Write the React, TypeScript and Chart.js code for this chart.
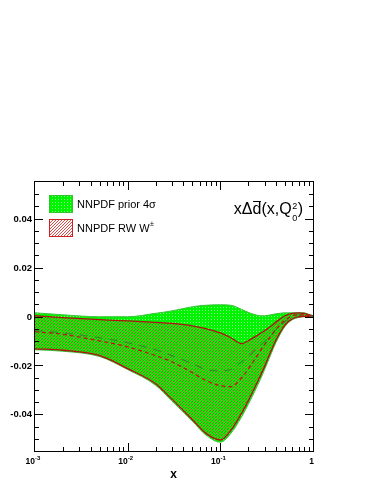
import React, { useEffect, useRef } from "react";
import { Chart, registerables } from "chart.js";

Chart.register(...registerables);

// x grid (log scale)
const xs = [0.001, 0.002, 0.005, 0.01, 0.02, 0.03, 0.05, 0.07, 0.1, 0.13, 0.17, 0.2, 0.25, 0.3, 0.35, 0.4, 0.5, 0.6, 0.7, 0.8, 0.9, 1];

// NNPDF prior 4 sigma band
const priorUp = [0.0015, 0.0007, -0.0001, -0.0001, 0.0013, 0.0023, 0.004, 0.0046, 0.0048, 0.0046, 0.0029, 0.0017, 0.0005, 0.0003, 0.0007, 0.0011, 0.0015, 0.0015, 0.0015, 0.0015, 0.0009, 0.0003];
const priorLow = [-0.0136, -0.0142, -0.0164, -0.0217, -0.0281, -0.0346, -0.0428, -0.0485, -0.0514, -0.0478, -0.041, -0.036, -0.0285, -0.0218, -0.0156, -0.0105, -0.004, -0.0013, -0.0004, -0.0001, -0.0001, 0];
const priorCentral = [-0.0058, -0.0067, -0.0087, -0.0107, -0.0136, -0.016, -0.0193, -0.0217, -0.0222, -0.0217, -0.0185, -0.0164, -0.0128, -0.0103, -0.0079, -0.0054, -0.0022, -0.0001, 0.0007, 0.0007, 0.0003, 0.0001];

// NNPDF reweighted with W+- data
const rwUp = [0.0003, -0.0005, -0.0013, -0.0018, -0.0024, -0.0028, -0.0038, -0.005, -0.0067, -0.0087, -0.0111, -0.0099, -0.0077, -0.0058, -0.004, -0.0022, 0.0003, 0.0013, 0.0015, 0.0013, 0.0007, 0.0003];
const rwLow = [-0.0132, -0.0138, -0.016, -0.0213, -0.0275, -0.0338, -0.0422, -0.0478, -0.0505, -0.0466, -0.0395, -0.0345, -0.027, -0.0205, -0.0144, -0.0095, -0.0034, -0.0009, -0.0001, 0.0001, 0.0001, 0];
const rwCentral = [-0.0062, -0.0073, -0.01, -0.0124, -0.016, -0.0185, -0.023, -0.0262, -0.0283, -0.0287, -0.025, -0.0215, -0.016, -0.0115, -0.008, -0.0052, -0.0015, 0.0003, 0.0007, 0.0007, 0.0003, 0.0001];

// axis ticks
const yTickLabels = ["0.04", "0.02", "0", "-0.02", "-0.04"];
const yTickValues = [0.04, 0.02, 0, -0.02, -0.04];
const xDecades = [-3, -2, -1];

const FONT = '"Liberation Sans", Arial, Helvetica, sans-serif';

const toPts = (arr: number[]) => xs.map((x, i) => ({ x, y: arr[i] }));

function makeHatch(bg: string | null, color: string, n: number): CanvasPattern | string {
  const c = document.createElement("canvas");
  c.width = n;
  c.height = n;
  const g = c.getContext("2d")!;
  if (bg) {
    g.fillStyle = bg;
    g.fillRect(0, 0, n, n);
  }
  g.fillStyle = color;
  for (let i = 0; i < n; i++) g.fillRect(i, n - 1 - i, 1, 1);
  return g.createPattern(c, "repeat") || color;
}

function makeDots(): CanvasPattern | string {
  const c = document.createElement("canvas");
  c.width = 3;
  c.height = 3;
  const g = c.getContext("2d")!;
  g.fillStyle = "#00f400";
  g.fillRect(0, 0, 3, 3);
  g.fillStyle = "#8cff8c";
  g.fillRect(1, 1, 1, 1);
  return g.createPattern(c, "repeat") || "#00f400";
}

const framePlugin = {
  id: "rootFrame",
  afterDraw(chart: any) {
    const { ctx, chartArea } = chart;
    const { left, top, right, bottom } = chartArea;
    const xs_ = chart.scales.x;
    const ys_ = chart.scales.y;
    ctx.save();
    ctx.strokeStyle = "#000";
    ctx.lineWidth = 1;
    ctx.strokeRect(left - 0.5, top - 0.5, right - left + 1, bottom - top + 1);

    // y ticks
    ctx.beginPath();
    for (let i = -10; i <= 10; i++) {
      const v = i * 0.005;
      const py = Math.round(ys_.getPixelForValue(v)) + 0.5;
      const len = i % 4 === 0 ? 8 : 4;
      ctx.moveTo(left, py);
      ctx.lineTo(left + len, py);
      ctx.moveTo(right, py);
      ctx.lineTo(right - len, py);
    }
    // x ticks
    for (const d of xDecades) {
      for (let k = 1; k <= 9; k++) {
        const v = k * Math.pow(10, d);
        if (k === 1 && d === -3) continue;
        const px = Math.round(xs_.getPixelForValue(v)) + 0.5;
        const len = k === 1 ? 8 : 4;
        ctx.moveTo(px, bottom);
        ctx.lineTo(px, bottom - len);
        ctx.moveTo(px, top);
        ctx.lineTo(px, top + len);
      }
    }
    ctx.stroke();

    // y labels
    ctx.fillStyle = "#000";
    ctx.font = `bold 9.5px ${FONT}`;
    ctx.textAlign = "right";
    ctx.textBaseline = "middle";
    yTickValues.forEach((v, i) => {
      ctx.fillText(yTickLabels[i], left - 3, ys_.getPixelForValue(v) + 0.5);
    });

    // x labels
    ctx.textBaseline = "alphabetic";
    ctx.textAlign = "left";
    const xBase = 464;
    for (const d of xDecades) {
      const px = xs_.getPixelForValue(Math.pow(10, d));
      ctx.font = `bold 8.5px ${FONT}`;
      const w1 = ctx.measureText("10").width;
      ctx.font = `bold 6px ${FONT}`;
      const exp = String(d);
      const w2 = ctx.measureText(exp).width;
      const x0 = px - 2 - (w1 + w2) / 2;
      ctx.font = `bold 8.5px ${FONT}`;
      ctx.fillText("10", x0, xBase);
      ctx.font = `bold 6px ${FONT}`;
      ctx.fillText(exp, x0 + w1, xBase - 4);
    }
    ctx.font = `bold 8.5px ${FONT}`;
    ctx.textAlign = "center";
    ctx.fillText("1", xs_.getPixelForValue(1) - 1.5, xBase);

    // x axis title
    ctx.font = `bold 12px ${FONT}`;
    ctx.fillText("x", 173.5, 478);

    // legend
    const dots = makeDots();
    const hatch = makeHatch("#ffffff", "#e04848", 3);
    ctx.fillStyle = dots as any;
    ctx.fillRect(49, 195, 24, 18);
    ctx.strokeStyle = "#2ec42e";
    ctx.strokeRect(49.5, 195.5, 23, 17);
    ctx.fillStyle = hatch as any;
    ctx.fillRect(49, 219, 24, 18);
    ctx.strokeStyle = "#d02020";
    ctx.strokeRect(49.5, 219.5, 23, 17);

    ctx.fillStyle = "#000";
    ctx.textAlign = "left";
    ctx.textBaseline = "middle";
    ctx.font = `11px ${FONT}`;
    ctx.fillText("NNPDF prior 4\u03C3", 77, 205);
    const t2 = "NNPDF RW W";
    ctx.fillText(t2, 77, 229);
    const w2 = ctx.measureText(t2).width;
    ctx.font = `7px ${FONT}`;
    ctx.fillText("\u00B1", 77 + w2 + 0.5, 224);

    // title x Delta dbar (x, Q0^2)
    ctx.textBaseline = "alphabetic";
    const fs = 16;
    ctx.font = `${fs}px ${FONT}`;
    const segA = "x\u0394";
    const segD = "d";
    const segB = "(x,Q";
    const segC = ")";
    const wA = ctx.measureText(segA).width;
    const wD = ctx.measureText(segD).width;
    const wB = ctx.measureText(segB).width;
    const wC = ctx.measureText(segC).width;
    ctx.font = `9px ${FONT}`;
    const wS = Math.max(ctx.measureText("2").width, ctx.measureText("0").width) + 1;
    const total = wA + wD + wB + wS + wC;
    const base = 214;
    let cx = 303 - total;
    ctx.font = `${fs}px ${FONT}`;
    ctx.fillText(segA, cx, base);
    cx += wA;
    ctx.fillText(segD, cx, base);
    ctx.lineWidth = 1;
    ctx.strokeStyle = "#000";
    ctx.beginPath();
    ctx.moveTo(cx + 0.5, base - 12.5);
    ctx.lineTo(cx + wD - 0.5, base - 12.5);
    ctx.stroke();
    cx += wD;
    ctx.fillText(segB, cx, base);
    cx += wB;
    ctx.font = `9px ${FONT}`;
    ctx.fillText("2", cx + 0.5, base - 5);
    ctx.fillText("0", cx + 0.5, base + 7);
    cx += wS;
    ctx.font = `${fs}px ${FONT}`;
    ctx.fillText(segC, cx, base);

    ctx.restore();
  },
};

export default function App() {
  const ref = useRef<HTMLCanvasElement>(null);
  useEffect(() => {
    const canvas = ref.current!;
    const green = makeDots();
    const hatch = makeHatch(null, "rgba(215,45,45,0.7)", 3);
    const common = {
      pointRadius: 0,
      pointHoverRadius: 0,
      cubicInterpolationMode: "monotone" as const,
    };
    const chart = new Chart(canvas, {
      type: "line",
      data: {
        datasets: [
          {
            ...common,
            label: "priorUp",
            data: toPts(priorUp),
            borderColor: "#3cc03c",
            borderWidth: 1,
            backgroundColor: green as any,
            fill: "+1",
            order: 10,
          },
          {
            ...common,
            label: "priorLow",
            data: toPts(priorLow),
            borderColor: "#3cc03c",
            borderWidth: 1,
            fill: false,
            order: 10,
          },
          {
            ...common,
            label: "rwUp",
            data: toPts(rwUp),
            borderColor: "#b01010",
            borderWidth: 1.3,
            backgroundColor: hatch as any,
            fill: "+1",
            order: 5,
          },
          {
            ...common,
            label: "rwLow",
            data: toPts(rwLow),
            borderColor: "#b01010",
            borderWidth: 1.3,
            fill: false,
            order: 5,
          },
          {
            ...common,
            label: "priorCentral",
            data: toPts(priorCentral),
            borderColor: "#2f8a2f",
            borderWidth: 1.1,
            borderDash: [8, 7],
            fill: false,
            order: 2,
          },
          {
            ...common,
            label: "rwCentral",
            data: toPts(rwCentral),
            borderColor: "#c01010",
            borderWidth: 1.2,
            borderDash: [4, 3],
            fill: false,
            order: 1,
          },
        ],
      },
      options: {
        animation: false,
        responsive: false,
        devicePixelRatio: 1,
        events: [],
        layout: { padding: { left: 35, top: 182, right: 62, bottom: 34 } },
        scales: {
          x: { type: "logarithmic", min: 0.001, max: 1, display: false },
          y: { type: "linear", min: -0.055, max: 0.055, display: false },
        },
        plugins: {
          legend: { display: false },
          tooltip: { enabled: false },
          filler: { drawTime: "beforeDatasetsDraw" },
        } as any,
      },
      plugins: [framePlugin],
    });
    return () => chart.destroy();
  }, []);
  return (
    <canvas
      ref={ref}
      width={375}
      height={485}
      style={{ position: "absolute", left: 0, top: 0, width: 375, height: 485 }}
    />
  );
}
